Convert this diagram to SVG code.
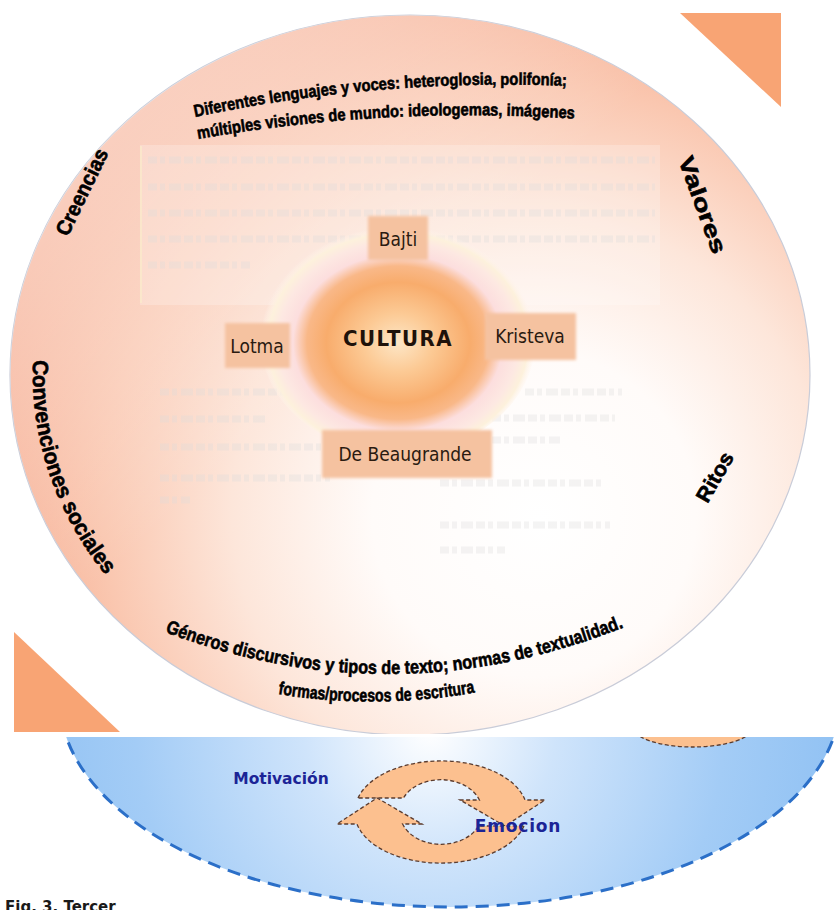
<svg xmlns="http://www.w3.org/2000/svg" width="836" height="910" viewBox="0 0 836 910">
<style>
.curve{font-family:"Liberation Sans",Arial,sans-serif;font-weight:bold;fill:#000;stroke:#000;stroke-width:0.6;}
.lbl{font-family:"DejaVu Sans Condensed","DejaVu Sans",sans-serif;font-size:19px;fill:#2a1a10;}
.box{fill:#f5c2a0;filter:url(#soft);}
.ghost{stroke:#dcdcdc;stroke-width:7;stroke-dasharray:9 3 5 4 12 3;opacity:0.3;}
.arrow{fill:#fcc08f;stroke:#5a3b2e;stroke-width:1.3;stroke-dasharray:4 2.5;}
.blue{font-family:"DejaVu Sans",sans-serif;font-weight:bold;fill:#1c2496;}
</style>
<defs>
<radialGradient id="bigGrad" gradientUnits="userSpaceOnUse" cx="520" cy="500" r="540" fx="540" fy="520">
<stop offset="0" stop-color="#ffffff"/>
<stop offset="0.3" stop-color="#fffbf9"/>
<stop offset="0.55" stop-color="#fde6da"/>
<stop offset="0.78" stop-color="#fac7b0"/>
<stop offset="1" stop-color="#f5a688"/>
</radialGradient>
<linearGradient id="tlGrad" x1="0" y1="0" x2="1" y2="1">
<stop offset="0" stop-color="#ffffff" stop-opacity="0.7"/>
<stop offset="0.45" stop-color="#ffffff" stop-opacity="0"/>
</linearGradient>
<radialGradient id="sunGrad" cx="0.5" cy="0.52" r="0.5">
<stop offset="0" stop-color="#fde6c6"/>
<stop offset="0.25" stop-color="#fcca95"/>
<stop offset="0.52" stop-color="#f8ac6c"/>
<stop offset="0.66" stop-color="#f9b888"/>
<stop offset="0.76" stop-color="#fcdede"/>
<stop offset="0.87" stop-color="#fde8e2"/>
<stop offset="0.94" stop-color="#fdf1dc"/>
<stop offset="1" stop-color="#fff4ee" stop-opacity="0"/>
</radialGradient>
<radialGradient id="blueGrad" gradientUnits="userSpaceOnUse" cx="430" cy="730" r="420">
<stop offset="0" stop-color="#ffffff"/>
<stop offset="0.3" stop-color="#cfe4fb"/>
<stop offset="0.7" stop-color="#a3ccf6"/>
<stop offset="1" stop-color="#90c1f3"/>
</radialGradient>
<filter id="soft" x="-10%" y="-10%" width="120%" height="120%"><feGaussianBlur stdDeviation="1.5"/></filter>
<clipPath id="topClip"><rect x="0" y="0" width="836" height="734"/></clipPath>
<clipPath id="botClip"><rect x="0" y="737" width="836" height="173"/></clipPath>
<path id="p1" d="M195,117 Q380,78 570,86"/>
<path id="p2" d="M198,139 Q385,106 578,119"/>
<path id="pConv" d="M33,360 A377,340 0 0 0 130,602"/>
<path id="pGen" d="M165,632 Q392,718 622,628"/>
<path id="pForm" d="M278,694 Q378,710 478,692"/>
<path id="arrowUp" d="M-83,-14 A86,50 0 0 1 84,-12 L104,-12 L64,14 L19,-12 L38.4,-12 A41,31 0 0 0 -37.5,-14 Z"/>
</defs>

<rect width="836" height="910" fill="#ffffff"/>

<g id="corner-triangles">
<polygon points="680,13 781,13 781,107" fill="#f8a474"/>
<polygon points="14,632 14,732 120,732" fill="#f8a474"/>
</g>

<g id="cultura-circle" clip-path="url(#topClip)">
<ellipse cx="410" cy="375" rx="400" ry="360" fill="url(#bigGrad)" stroke="#c9ccd8" stroke-width="1.2"/>
<ellipse cx="410" cy="375" rx="400" ry="360" fill="url(#tlGrad)"/>
<rect x="140" y="145" width="520" height="160" fill="#ffffff" opacity="0.22"/>
<line x1="141" y1="146" x2="141" y2="303" stroke="#fbeccb" stroke-width="2" opacity="0.7"/>
<g id="ghost-lines">
<line class="ghost" x1="148" y1="160" x2="655" y2="160"/>
<line class="ghost" x1="148" y1="187" x2="655" y2="187"/>
<line class="ghost" x1="148" y1="213" x2="655" y2="213"/>
<line class="ghost" x1="148" y1="239" x2="655" y2="239"/>
<line class="ghost" x1="148" y1="265" x2="250" y2="265"/>
<line class="ghost" x1="160" y1="392" x2="305" y2="392"/>
<line class="ghost" x1="160" y1="419" x2="265" y2="419"/>
<line class="ghost" x1="160" y1="447" x2="390" y2="447"/>
<line class="ghost" x1="160" y1="478" x2="330" y2="478"/>
<line class="ghost" x1="160" y1="500" x2="190" y2="500"/>
<line class="ghost" x1="525" y1="392" x2="622" y2="392"/>
<line class="ghost" x1="492" y1="418" x2="615" y2="418"/>
<line class="ghost" x1="492" y1="440" x2="560" y2="440"/>
<line class="ghost" x1="440" y1="483" x2="605" y2="483"/>
<line class="ghost" x1="440" y1="525" x2="610" y2="525"/>
<line class="ghost" x1="440" y1="550" x2="505" y2="550"/>
</g>
</g>

<g id="sun">
<ellipse cx="398" cy="338" rx="138" ry="116" fill="url(#sunGrad)"/>
<text x="398" y="346" text-anchor="middle" style="font-family:'DejaVu Sans Condensed','DejaVu Sans',sans-serif;font-weight:bold;font-size:22px;letter-spacing:1.5px;fill:#1e120a">CULTURA</text>
</g>

<g id="node-bajti">
<rect class="box" x="368" y="216" width="60" height="44"/>
<text class="lbl" x="398" y="246" text-anchor="middle">Bajti</text>
</g>
<g id="node-lotma">
<rect class="box" x="225" y="323" width="65" height="45"/>
<text class="lbl" x="257" y="353" text-anchor="middle">Lotma</text>
</g>
<g id="node-kristeva">
<rect class="box" x="485" y="313" width="91" height="47"/>
<text class="lbl" x="530" y="343" text-anchor="middle">Kristeva</text>
</g>
<g id="node-debeaugrande">
<rect class="box" x="322" y="430" width="170" height="48"/>
<text class="lbl" x="405" y="461" text-anchor="middle">De Beaugrande</text>
</g>

<g id="ring-labels">
<text class="curve" font-size="17"><textPath href="#p1" textLength="374" lengthAdjust="spacingAndGlyphs">Diferentes lenguajes y voces: heteroglosia, polifonía;</textPath></text>
<text class="curve" font-size="17"><textPath href="#p2" textLength="378" lengthAdjust="spacingAndGlyphs">múltiples visiones de mundo: ideologemas, imágenes</textPath></text>
<text class="curve" font-size="21" transform="translate(82,192) rotate(-64)" text-anchor="middle" y="7" textLength="94" lengthAdjust="spacingAndGlyphs">Creencias</text>
<text class="curve" font-size="22" transform="translate(702,205) rotate(70)" text-anchor="middle" y="7" textLength="102" lengthAdjust="spacingAndGlyphs">Valores</text>
<text class="curve" font-size="22"><textPath href="#pConv" textLength="232" lengthAdjust="spacingAndGlyphs">Convenciones sociales</textPath></text>
<text class="curve" font-size="21" transform="translate(715,477) rotate(-60)" text-anchor="middle" y="7" textLength="54" lengthAdjust="spacingAndGlyphs">Ritos</text>
<text class="curve" font-size="19"><textPath href="#pGen" textLength="470" lengthAdjust="spacingAndGlyphs">Géneros discursivos y tipos de texto; normas de textualidad.</textPath></text>
<text class="curve" font-size="18"><textPath href="#pForm" textLength="198" lengthAdjust="spacingAndGlyphs">formas/procesos de escritura</textPath></text>
</g>

<g id="affect-area" clip-path="url(#botClip)">
<ellipse cx="450" cy="700" rx="390" ry="207" fill="url(#blueGrad)" stroke="#2b6fc8" stroke-width="3" stroke-dasharray="13 8"/>
<ellipse cx="693" cy="727" rx="60" ry="20" fill="#fcc08f" stroke="#5a3b2e" stroke-width="1.3" stroke-dasharray="4 2.5"/>
</g>

<g id="cycle-arrows" transform="translate(441,812)">
<use href="#arrowUp" class="arrow"/>
<use href="#arrowUp" class="arrow" transform="rotate(180)"/>
</g>

<g id="affect-labels">
<text class="blue" x="281" y="784" text-anchor="middle" font-size="15.5">Motivación</text>
<text class="blue" x="518" y="832" text-anchor="middle" font-size="17" letter-spacing="0.8">Emocion</text>
</g>

<text x="5" y="912" style="font-family:'DejaVu Sans',sans-serif;font-weight:bold;font-size:15px;fill:#1a1a1a">Fig. 3. Tercer</text>
</svg>
